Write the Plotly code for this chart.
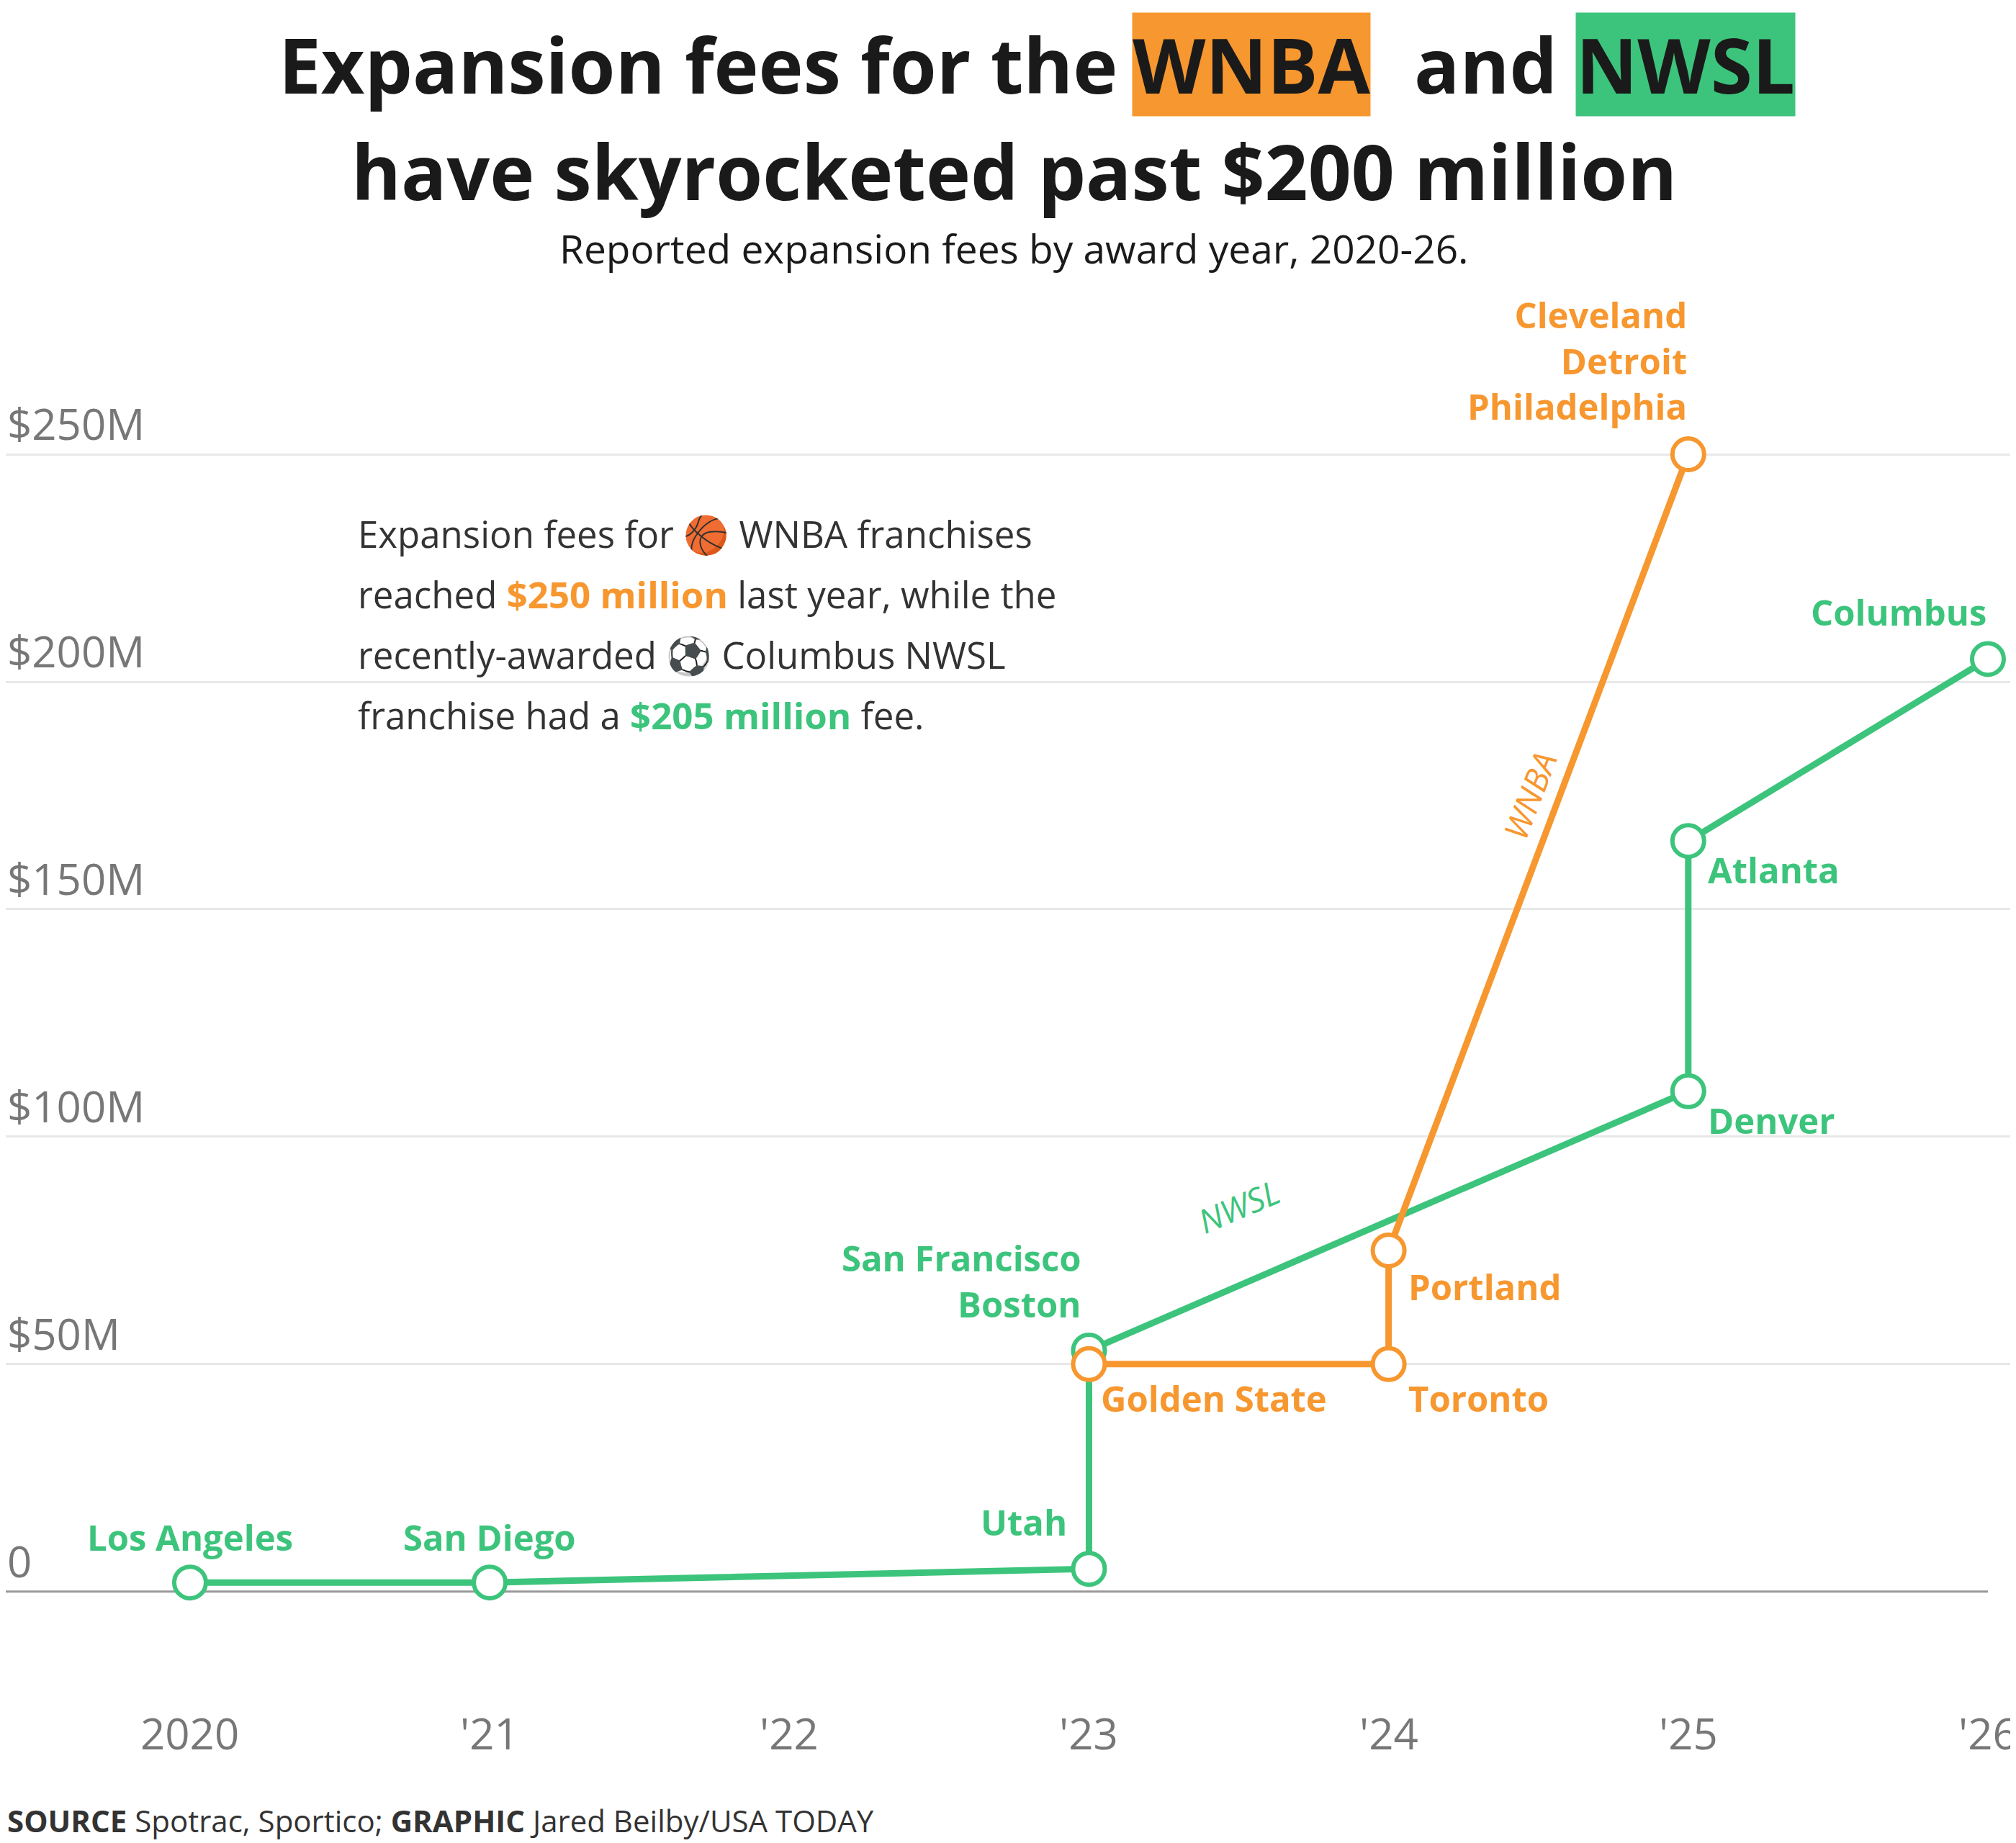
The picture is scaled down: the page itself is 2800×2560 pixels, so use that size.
import plotly.graph_objects as go

ORANGE = "#F7972F"
GREEN = "#3DC47C"
TEXT = "#1a1a1a"
FONT = "Open Sans"

nwsl_x = [2020, 2021, 2023, 2023, 2025, 2025, 2026]
nwsl_y = [2, 2, 5, 53, 110, 165, 205]
wnba_x = [2023, 2024, 2024, 2025]
wnba_y = [50, 50, 75, 250]

ytick_vals = [0, 50, 100, 150, 200, 250]
ytick_text = ["0", "$50M", "$100M", "$150M", "$200M", "$250M"]
xtick_vals = [2020, 2021, 2022, 2023, 2024, 2025, 2026]
xtick_text = ["2020", "'21", "'22", "'23", "'24", "'25", "'26"]

# (x, y, text, color, xanchor, yanchor, xshift, yshift, align)
labels = [
    (2020, 2, "Los Angeles", GREEN, "center", "bottom", 0, 28, "center"),
    (2021, 2, "San Diego", GREEN, "center", "bottom", 0, 28, "center"),
    (2023, 5, "Utah", GREEN, "right", "bottom", -28, 30, "right"),
    (2023, 53, "San Francisco<br>Boston", GREEN, "right", "bottom", -8, 30, "right"),
    (2023, 50, "Golden State", ORANGE, "left", "top", 15, -12, "left"),
    (2024, 50, "Toronto", ORANGE, "left", "top", 25, -12, "left"),
    (2024, 75, "Portland", ORANGE, "left", "top", 25, -15, "left"),
    (2025, 250, "Cleveland<br>Detroit<br>Philadelphia", ORANGE, "right", "bottom", 0, 32, "right"),
    (2026, 205, "Columbus", GREEN, "right", "bottom", 0, 30, "right"),
    (2025, 165, "Atlanta", GREEN, "left", "top", 25, -5, "left"),
    (2025, 110, "Denver", GREEN, "left", "top", 25, -5, "left"),
]

fig = go.Figure()
fig.add_trace(go.Scatter(x=nwsl_x, y=nwsl_y, mode="lines+markers",
    line=dict(color=GREEN, width=9),
    marker=dict(size=44, color="white", line=dict(color=GREEN, width=6))))
fig.add_trace(go.Scatter(x=wnba_x, y=wnba_y, mode="lines+markers",
    line=dict(color=ORANGE, width=9),
    marker=dict(size=44, color="white", line=dict(color=ORANGE, width=6))))

ann = []
for x, y, t, c, xa, ya, xs, ys, al in labels:
    ann.append(dict(x=x, y=y, text=f"<b>{t}</b>", showarrow=False, xanchor=xa, yanchor=ya,
                    xshift=xs, yshift=ys, align=al, font=dict(size=49, color=c, family=FONT)))
for v, t in zip(ytick_vals, ytick_text):
    ann.append(dict(x=0, xref="paper", y=v, text=t, showarrow=False, xanchor="left",
                    yanchor="bottom", yshift=0, font=dict(size=60, color="#777", family=FONT)))
for v, t in zip(xtick_vals, xtick_text):
    ann.append(dict(x=v, y=-31, text=t, showarrow=False, xanchor="center", yanchor="middle",
                    font=dict(size=60, color="#777", family=FONT)))

ann.append(dict(x=2023.5, y=(53 + 110) / 2 - 1.5, text="<i>NWSL</i>", showarrow=False, textangle=-23,
                yshift=30, font=dict(size=46, color=GREEN, family=FONT)))
ann.append(dict(x=2024.47, y=175, text="<i>WNBA</i>", showarrow=False, textangle=-69,
                font=dict(size=46, color=ORANGE, family=FONT)))

H_TOP, H_BOT = 400, 2460
def py(p):
    return (H_BOT - p) / (H_BOT - H_TOP)
def px(p):
    return p / 2800

body = [
    "Expansion fees for 🏀 WNBA franchises",
    f"reached <b><span style='color:{ORANGE}'>$250 million</span></b> last year, while the",
    "recently-awarded ⚽ Columbus NWSL",
    f"franchise had a <b><span style='color:{GREEN}'>$205 million</span></b> fee.",
]
for i, line in enumerate(body):
    ann.append(dict(xref="paper", yref="paper", x=px(487), y=py(733 + i * 84), text=line,
                    showarrow=False, xanchor="left", yanchor="middle",
                    font=dict(size=51, color="#333", family=FONT)))

TF = dict(size=105, color=TEXT, family=FONT)
ann += [
    dict(xref="paper", yref="paper", x=px(1546), y=py(81), text="<b>Expansion fees for the</b>",
         showarrow=False, xanchor="right", yanchor="middle", font=TF),
    dict(xref="paper", yref="paper", x=px(1564), y=py(81), text="<b>WNBA</b>", bgcolor=ORANGE,
         borderpad=0, showarrow=False, xanchor="left", yanchor="middle", font=TF),
    dict(xref="paper", yref="paper", x=px(1954), y=py(81), text="<b>and</b>",
         showarrow=False, xanchor="left", yanchor="middle", font=TF),
    dict(xref="paper", yref="paper", x=px(2180), y=py(81), text="<b>NWSL</b>", bgcolor=GREEN,
         borderpad=0, showarrow=False, xanchor="left", yanchor="middle", font=TF),
    dict(xref="paper", yref="paper", x=px(1400), y=py(229), text="<b>have skyrocketed past $200 million</b>",
         showarrow=False, xanchor="center", yanchor="middle", font=TF),
    dict(xref="paper", yref="paper", x=px(1400), y=py(337), text="Reported expansion fees by award year, 2020-26.",
         showarrow=False, xanchor="center", yanchor="middle", font=dict(size=55, color=TEXT, family=FONT)),
    dict(xref="paper", yref="paper", x=0, y=py(2520), text="<b>SOURCE</b> Spotrac, Sportico; <b>GRAPHIC</b> Jared Beilby/USA TODAY",
         showarrow=False, xanchor="left", yanchor="middle", font=dict(size=42, color="#333", family=FONT)),
]

fig.update_layout(
    width=2800, height=2560, margin=dict(l=0, r=0, t=H_TOP, b=2560 - H_BOT),
    plot_bgcolor="white", paper_bgcolor="white", showlegend=False,
    xaxis=dict(range=[2019.385, 2026.113], showgrid=False, zeroline=False, showticklabels=False, fixedrange=True),
    yaxis=dict(range=[-40.7, 285.3], tickvals=[50, 100, 150, 200, 250], showticklabels=False,
               showgrid=True, gridcolor="#e8e8e8", gridwidth=3, zeroline=False),
    annotations=ann,
    shapes=[dict(type="line", xref="paper", x0=0, x1=px(2753), y0=0, y1=0,
                 line=dict(color="#999", width=3), layer="below")],
)
fig.write_html("out.html")
